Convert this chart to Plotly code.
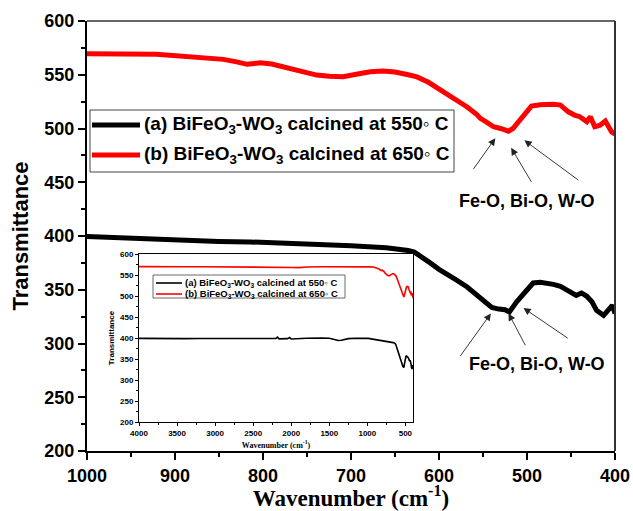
import plotly.graph_objects as go

# FTIR spectra, wavenumber in cm^-1 (descending), transmittance in a.u.
wn_550 = [4000, 3800, 3600, 3400, 3200, 3000, 2800, 2600, 2400, 2200, 2180, 2160,
          2050, 2020, 2000, 1900, 1800, 1600, 1500, 1420, 1380, 1340, 1250, 1150,
          1050, 1000, 985, 950, 900, 850, 815, 780, 750, 700, 660, 644, 635, 628,
          620, 610, 600, 591, 580, 568, 560, 553, 546, 540, 532, 525, 520, 516,
          512, 502, 493, 485, 478, 470, 462, 451, 444, 438, 432, 426, 421, 413,
          408, 403, 400]
t_550 = [399, 398.5, 399, 398.5, 398.8, 398.5, 399, 398.8, 399.2, 399, 402, 398,
         398.5, 401, 397.5, 399, 399.5, 399.8, 399.5, 396, 394, 394.5, 398.5, 399.5,
         400, 399.5, 399, 398, 396.5, 395, 394.5, 393.5, 393, 391, 389, 388, 386.5, 385,
         381, 375, 369, 365, 359, 352.6, 347.5, 343.2, 338.5, 333.5, 332, 331.4, 329.3, 334,
         338.6, 347.9, 356.3, 357, 356.3, 355, 353.2, 348, 344.8, 347, 343.9, 338.6, 330.8, 326.2,
         330.8, 335.5, 328]

wn_650 = [4000, 3800, 3600, 3400, 3200, 3000, 2800, 2600, 2400, 2200, 2000, 1900,
          1800, 1600, 1400, 1200, 1100, 1000, 996, 960, 921, 890, 864, 845, 830,
          818, 810, 803, 790, 780, 769, 755, 739, 725, 709, 694, 678, 664, 650,
          635, 625, 612, 600, 587, 577, 568, 557, 553, 546, 538, 530, 521, 516,
          510, 504, 495, 485, 478, 470, 462, 453, 446, 440, 432, 428, 423, 417,
          411, 408, 404, 400]
t_650 = [570, 569.5, 570, 569.5, 569.8, 569.6, 570, 569.8, 569.6, 570, 568, 567.5,
         569, 569.5, 570, 570.5, 570.5, 570, 569.9, 569.4, 569, 567.5, 565.9, 564.3, 562,
         559.7, 560.5, 561.2, 560, 558, 555, 552, 549.7, 548.5, 548.2, 550.4, 552.8, 553.4, 552.5,
         550, 548, 543, 537, 530, 525, 520, 513, 509.4, 506, 501.6, 500, 497.5, 500,
         506, 512.5, 520.8, 522, 522.7, 522.5, 521.8, 515.5, 512.5, 511, 506.3, 511, 501.6, 503,
         507, 501.6, 497, 494.8]

series_names = ["(a) BiFeO<sub>3</sub>-WO<sub>3</sub> calcined at 550◦ C",
                "(b) BiFeO<sub>3</sub>-WO<sub>3</sub> calcined at 650◦ C"]
series_colors = ["#000000", "#ff0000"]
band_label = "Fe-O, Bi-O, W-O"

main_ticks_x = [1000, 900, 800, 700, 600, 500, 400]
main_ticks_y = [200, 250, 300, 350, 400, 450, 500, 550, 600]
inset_ticks_x = [4000, 3500, 3000, 2500, 2000, 1500, 1000, 500]

SANS = "Liberation Sans"
SERIF = "Liberation Serif"

# plot-area geometry in pixels (page is 633 x 511)
L, R, T, B = 87, 615, 21, 451
W, H = R - L, B - T


def px(x):
    return (x - L) / W


def py(y):
    return (B - y) / H


fig = go.Figure()

spectra = [(wn_550, t_550), (wn_650, t_650)]
for (wn, tr), col in zip(spectra, series_colors):
    fig.add_trace(go.Scatter(x=wn, y=tr, mode="lines", line=dict(color=col, width=5),
                             showlegend=False, xaxis="x", yaxis="y"))
for (wn, tr), col in zip(spectra, series_colors):
    fig.add_trace(go.Scatter(x=wn, y=tr, mode="lines", line=dict(color=col, width=1.6),
                             showlegend=False, xaxis="x2", yaxis="y2"))

axis_common = dict(showgrid=False, zeroline=False, showline=True, linecolor="black",
                   ticks="outside", tickcolor="black")

fig.update_layout(
    width=633, height=511,
    margin=dict(l=L, r=633 - R, t=T, b=511 - B, autoexpand=False),
    paper_bgcolor="white", plot_bgcolor="white",
    xaxis=dict(**axis_common, mirror=False, range=[1000, 400], tickvals=main_ticks_x,
               linewidth=2.2, ticklen=7, tickwidth=2,
               minor=dict(dtick=50, ticks="outside", ticklen=4, tickwidth=2, tickcolor="black"),
               tickfont=dict(family=SANS, size=18, color="black", weight="bold"),
               title=dict(text="Wavenumber (cm<sup>-1</sup>)", standoff=6,
                          font=dict(family=SERIF, size=23, color="black", weight="bold")),
               automargin=False),
    yaxis=dict(**axis_common, mirror=False, range=[200, 600], tickvals=main_ticks_y,
               linewidth=2.2, ticklen=7, tickwidth=2,
               minor=dict(dtick=25, ticks="outside", ticklen=4, tickwidth=2, tickcolor="black"),
               tickfont=dict(family=SANS, size=18, color="black", weight="bold"),
               title=dict(text="Transmittance", standoff=10,
                          font=dict(family=SANS, size=22, color="black", weight="bold")),
               automargin=False),
    xaxis2=dict(**axis_common, mirror=True, domain=[px(139), px(413)], anchor="y2",
                range=[4000, 400], tickvals=inset_ticks_x,
                linewidth=1, ticklen=3, tickwidth=1,
                minor=dict(dtick=250, ticks="outside", ticklen=2, tickwidth=1, tickcolor="black"),
                tickfont=dict(family=SANS, size=8, color="black", weight="bold"),
                title=dict(text="Wavenumber (cm<sup>-1</sup>)", standoff=5,
                           font=dict(family=SERIF, size=8, color="black", weight="bold")),
                automargin=False),
    yaxis2=dict(**axis_common, mirror=True, domain=[py(422), py(254)], anchor="x2",
                range=[200, 600], tickvals=main_ticks_y,
                linewidth=1, ticklen=3, tickwidth=1,
                minor=dict(dtick=25, ticks="outside", ticklen=2, tickwidth=1, tickcolor="black"),
                tickfont=dict(family=SANS, size=8, color="black", weight="bold"),
                title=dict(text="Transmittance", standoff=4,
                           font=dict(family=SANS, size=8, color="black", weight="bold")),
                automargin=False),
)

shapes = []
annotations = []

# top and right frame lines of the main panel
shapes.append(dict(type="line", xref="paper", yref="paper", x0=0, x1=1, y0=1, y1=1,
                   line=dict(color="#333333", width=1.6)))
shapes.append(dict(type="line", xref="paper", yref="paper", x0=1, x1=1, y0=0, y1=1,
                   line=dict(color="#333333", width=2)))

# main legend box
shapes.append(dict(type="rect", xref="paper", yref="paper",
                   x0=px(90), x1=px(454), y0=py(172), y1=py(110),
                   line=dict(color="#444444", width=1), fillcolor="white", layer="above"))
for yy, name, col in zip([125, 155], series_names, series_colors):
    shapes.append(dict(type="line", xref="paper", yref="paper",
                       x0=px(92), x1=px(140), y0=py(yy), y1=py(yy),
                       line=dict(color=col, width=5)))
    annotations.append(dict(xref="paper", yref="paper", x=px(142), y=py(yy),
                            xanchor="left", yanchor="middle", showarrow=False, text=name,
                            font=dict(family=SANS, size=19, color="black", weight="bold")))

# inset legend box
shapes.append(dict(type="rect", xref="paper", yref="paper",
                   x0=px(153), x1=px(345), y0=py(298), y1=py(275),
                   line=dict(color="#444444", width=0.8), fillcolor="white", layer="above"))
for yy, name, col in zip([283, 294], series_names, series_colors):
    shapes.append(dict(type="line", xref="paper", yref="paper",
                       x0=px(156), x1=px(182), y0=py(yy), y1=py(yy),
                       line=dict(color=col, width=1.6)))
    annotations.append(dict(xref="paper", yref="paper", x=px(182.5), y=py(yy),
                            xanchor="left", yanchor="middle", showarrow=False, text=name,
                            font=dict(family=SANS, size=9.5, color="black", weight="bold")))

# band assignment labels with arrows pointing at the absorption dips
band_groups = [
    dict(label=(500, 433), arrows=[((562, 461), (536, 491)),
                                   ((494, 449), (518, 482)),
                                   ((440, 451), (503, 489))]),
    dict(label=(489, 281), arrows=[((577, 287), (541, 328)),
                                   ((501, 297), (521, 328)),
                                   ((452, 304), (504, 333))]),
]
for grp in band_groups:
    lx, ly = grp["label"]
    annotations.append(dict(xref="x", yref="y", x=lx, y=ly, showarrow=False,
                            text=band_label, xanchor="center", yanchor="middle",
                            font=dict(family=SANS, size=18, color="black", weight="bold")))
    for (tx, ty), (hx, hy) in grp["arrows"]:
        annotations.append(dict(xref="x", yref="y", x=hx, y=hy, axref="x", ayref="y",
                                ax=tx, ay=ty, text="", showarrow=True, arrowhead=2,
                                arrowsize=1.6, arrowwidth=0.9, arrowcolor="#222222",
                                standoff=0, startstandoff=0))

fig.update_layout(shapes=shapes, annotations=annotations)

fig.write_html("out.html")
